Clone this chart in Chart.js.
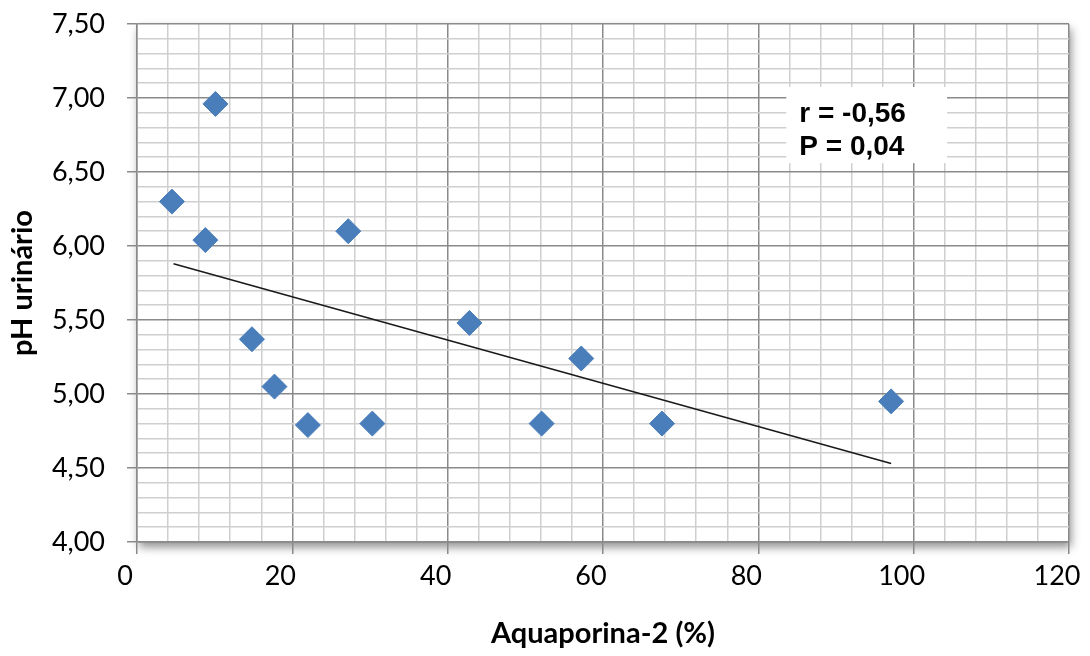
<!DOCTYPE html>
<html>
<head>
<meta charset="utf-8">
<script src="https://cdn.jsdelivr.net/npm/chart.js@4"></script>
<style>
  body { margin: 0; background: #fff; }
  #canvasWrapper { width: 1090px; height: 656px; }
</style>
</head>
<body>
<div id="canvasWrapper"><canvas id="dataChart" width="1090" height="656"></canvas></div>
<script>
// Aquaporina-2 (%) vs pH urinário
let aqp2 = [4.5, 8.8, 10.1, 14.8, 17.7, 22.0, 27.2, 30.3, 42.8, 52.1, 57.2, 67.6, 97.1];
let phUrina = [6.30, 6.04, 6.96, 5.37, 5.05, 4.79, 6.10, 4.80, 5.48, 4.80, 5.24, 4.80, 4.95];

// linha de tendência (pontos inicial e final)
let trendX = [4.7, 97.1];
let trendY = [5.88, 4.53];

let statsText = ['r = -0,56', 'P = 0,04'];

let points = aqp2.map((x, i) => ({ x: x, y: phUrina[i] }));
let trend = trendX.map((x, i) => ({ x: x, y: trendY[i] }));

let majorColor = '#8a8a8a';
let minorColor = '#cfcfcf';

function isMajor(v, step) {
    let q = v / step;
    return Math.abs(q - Math.round(q)) < 1e-6;
}

// sombra da área do gráfico
let shadowPlugin = {
    id: 'plotShadow',
    beforeDraw(chart) {
        let a = chart.chartArea;
        let ctx = chart.ctx;
        ctx.save();
        ctx.shadowColor = 'rgba(0,0,0,0.45)';
        ctx.shadowBlur = 9;
        ctx.shadowOffsetX = 2;
        ctx.shadowOffsetY = 5;
        ctx.fillStyle = '#fff';
        ctx.fillRect(a.left, a.top, a.right - a.left, a.bottom - a.top);
        ctx.restore();
    }
};

// caixa com r e P
let statsPlugin = {
    id: 'statsBox',
    afterDatasetsDraw(chart) {
        let ctx = chart.ctx;
        let xs = chart.scales.x, ys = chart.scales.y;
        let x0 = xs.getPixelForValue(83.6), x1 = xs.getPixelForValue(104.3);
        let y0 = ys.getPixelForValue(7.075), y1 = ys.getPixelForValue(6.56);
        ctx.save();
        ctx.fillStyle = '#fff';
        ctx.fillRect(x0, y0, x1 - x0, y1 - y0);
        ctx.fillStyle = '#000';
        ctx.font = 'bold 28px "Liberation Sans", Arial, sans-serif';
        ctx.textBaseline = 'middle';
        ctx.fillText(statsText[0], x0 + 13, y0 + 27);
        ctx.fillText(statsText[1], x0 + 13, y0 + 60);
        ctx.restore();
    }
};

let ctx = document.getElementById('dataChart').getContext('2d');

let myChart = new Chart(ctx, {
    type: 'scatter',
    data: {
        datasets: [{
            label: 'pH urinário',
            data: points,
            pointStyle: 'rectRot',
            pointRadius: 12.5,
            pointHoverRadius: 12.5,
            backgroundColor: '#4a7ebb',
            borderColor: '#4a7ebb',
            borderWidth: 1,
            order: 1
        }, {
            type: 'line',
            label: 'tendência',
            data: trend,
            borderColor: '#1a1a1a',
            borderWidth: 1.6,
            pointRadius: 0,
            fill: false,
            order: 2
        }]
    },
    options: {
        responsive: false,
        animation: false,
        layout: { padding: { left: 0, top: 24, right: 21, bottom: 0 } },
        plugins: {
            legend: { display: false },
            tooltip: { enabled: false }
        },
        scales: {
            x: {
                type: 'linear',
                min: 0,
                max: 120,
                afterFit(scale) {
                    scale.height = 114;
                    scale.paddingLeft = 0;
                    scale.paddingRight = 0;
                },
                ticks: {
                    stepSize: 4,
                    autoSkip: false,
                    maxRotation: 0,
                    padding: 6,
                    labelOffset: -12,
                    color: '#000',
                    font: { family: 'Lato', size: 27 },
                    callback: v => isMajor(v, 20) ? String(v) : ''
                },
                grid: {
                    lineWidth: 1.5,
                    tickLength: 12,
                    color: c => isMajor(c.tick.value, 20) ? majorColor : minorColor,
                    tickColor: c => isMajor(c.tick.value, 20) ? majorColor : 'rgba(0,0,0,0)'
                },
                border: { color: majorColor, width: 1.5 },
                title: {
                    display: true,
                    text: 'Aquaporina-2 (%)',
                    color: '#000',
                    font: { family: 'Lato', size: 29, weight: 'bold' },
                    padding: { top: 0, bottom: 5 }
                }
            },
            y: {
                type: 'linear',
                min: 4,
                max: 7.5,
                afterFit(scale) {
                    scale.width = 137;
                    scale.paddingTop = 0;
                    scale.paddingBottom = 0;
                },
                ticks: {
                    stepSize: 0.1,
                    autoSkip: false,
                    padding: 22,
                    color: '#000',
                    font: { family: 'Lato', size: 27 },
                    callback: v => isMajor(v, 0.5) ? v.toFixed(2).replace('.', ',') : ''
                },
                grid: {
                    lineWidth: 1.5,
                    tickLength: 10,
                    color: c => isMajor(c.tick.value, 0.5) ? majorColor : minorColor,
                    tickColor: c => isMajor(c.tick.value, 0.5) ? majorColor : 'rgba(0,0,0,0)'
                },
                border: { color: majorColor, width: 1.5 },
                title: {
                    display: true,
                    text: 'pH urinário',
                    color: '#000',
                    font: { family: 'Lato', size: 29, weight: 'bold' },
                    padding: { top: 5, bottom: 0 }
                }
            }
        }
    },
    plugins: [shadowPlugin, statsPlugin]
});
</script>
</body>
</html>
